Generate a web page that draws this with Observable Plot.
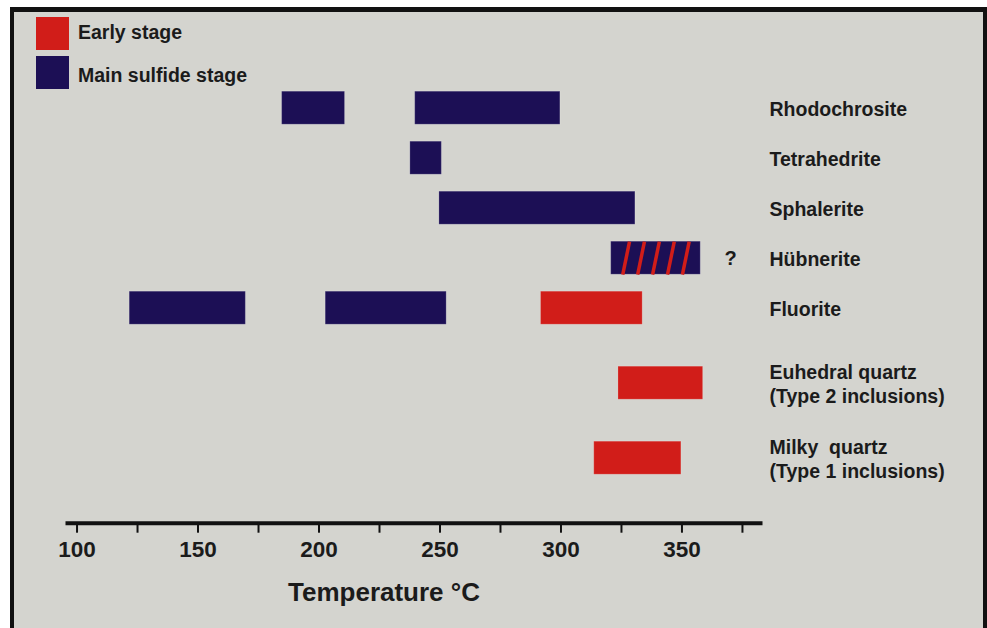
<!DOCTYPE html>
<html>
<head>
<meta charset="utf-8">
<script src="https://cdn.jsdelivr.net/npm/d3@7"></script>
<script src="https://cdn.jsdelivr.net/npm/@observablehq/plot@0.6"></script>
<style>
  html, body { margin: 0; padding: 0; background: #fff; width: 987px; height: 628px; overflow: hidden; }
  #panel { position: absolute; left: 10px; top: 7px; width: 969px; height: 640px;
           border-left: 4px solid #111; border-top: 5px solid #111; border-right: 4px solid #111;
           background: #d4d4cf; }
  #chart { position: absolute; left: 0; top: 0; }
  #chart text { white-space: pre; }
  #legend { position: absolute; left: 36px; top: 17px;
            font: bold 19.5px "Liberation Sans", Arial, sans-serif; color: #1b1b1b; }
  #legend .item { display: flex; align-items: center; height: 33px; margin-bottom: 6px; }
  #legend .sw { width: 33px; height: 33px; margin-right: 9px; }
  #legend .item span { position: relative; }
  #legend .item:first-child span { top: -1px; }
  #legend .item:last-child span { top: 3px; }
</style>
</head>
<body>
<div id="panel"></div>
<div id="chart"></div>
<div id="legend"></div>
<script>
// Minerals, top to bottom, and their labels (two-line labels use "\n")
const minerals = ["Rhodochrosite", "Tetrahedrite", "Sphalerite", "Hübnerite", "Fluorite", "Euhedral quartz", "Milky quartz"];
const mineralLabels = ["Rhodochrosite", "Tetrahedrite", "Sphalerite", "Hübnerite", "Fluorite",
  "Euhedral quartz\n(Type 2 inclusions)", "Milky  quartz\n(Type 1 inclusions)"];

// Paragenetic stages
const stages = ["Early stage", "Main sulfide stage"];

// Homogenization temperature intervals (°C)
const intervalMineral = ["Rhodochrosite", "Rhodochrosite", "Tetrahedrite", "Sphalerite", "Hübnerite",
  "Fluorite", "Fluorite", "Fluorite", "Euhedral quartz", "Milky quartz"];
const intervalStage = ["Main sulfide stage", "Main sulfide stage", "Main sulfide stage", "Main sulfide stage", "Main sulfide stage",
  "Main sulfide stage", "Main sulfide stage", "Early stage", "Early stage", "Early stage"];
const intervalFrom = [186, 241, 239, 251, 322, 123, 204, 293, 325, 315];
const intervalTo   = [212, 301, 252, 332, 359, 171, 254, 335, 360, 351];

// Main-stage intervals streaked with early-stage red, and stage assignments still in doubt
const overprinted = ["Hübnerite"];
const uncertain = ["Hübnerite"];

// Axis ticks
const majorTicks = [100, 150, 200, 250, 300, 350];
const minorTicks = [125, 175, 225, 275, 325, 375];

const stageColors = ["#d11d19", "#1c0f55"];

const intervals = intervalFrom.map((from, i) => ({
  mineral: intervalMineral[i], stage: intervalStage[i], from, to: intervalTo[i]
}));

// Row positions: two-line labels get extra room
const slot = new Map();
let pos = 0;
mineralLabels.forEach((label, i) => {
  if (i > 0) pos += label.includes("\n") ? 1.5 : 1;
  slot.set(minerals[i], pos);
});
const HALF = 0.33; // half bar thickness in row units

// Diagonal streaks across overprinted bars
const stripes = intervals
  .filter(d => overprinted.includes(d.mineral))
  .flatMap(d => d3.range(1, 6).map(k => {
    const c = d.from + (d.to - d.from) * k / 6;
    const r = slot.get(d.mineral);
    return {x1: c - 1.4, x2: c + 1.4, y1: r + HALF, y2: r - HALF};
  }));

const upper = m => d3.max(intervals.filter(d => d.mineral === m), d => d.to);

const chart = Plot.plot({
  width: 987,
  height: 628,
  marginLeft: 67,
  marginRight: 227,
  marginTop: 0,
  marginBottom: 105.3,
  x: {domain: [97.3, 383.7]},
  y: {domain: [0, pos], range: [107.7, 457.7], axis: null},
  color: {domain: stages, range: stageColors},
  style: {background: "transparent", fontFamily: "'Liberation Sans', Arial, sans-serif", color: "#1b1b1b"},
  marks: [
    Plot.rect(intervals, {
      x1: "from", x2: "to",
      y1: d => slot.get(d.mineral) - HALF,
      y2: d => slot.get(d.mineral) + HALF,
      fill: "stage",
      stroke: "white", strokeOpacity: 0.18, strokeWidth: 1
    }),
    Plot.link(stripes, {x1: "x1", y1: "y1", x2: "x2", y2: "y2", stroke: stageColors[0], strokeWidth: 3.5}),
    Plot.text(uncertain, {
      x: upper, y: m => slot.get(m), text: () => "?",
      dx: 30, fontSize: 20, fontWeight: "bold", fill: "#1b1b1b"
    }),
    Plot.text(mineralLabels, {
      y: (d, i) => slot.get(minerals[i]),
      frameAnchor: "right", textAnchor: "start", dx: 9,
      fontSize: 19.5, fontWeight: "bold", lineHeight: 1.24, fill: "#1b1b1b"
    }),
    Plot.frame({anchor: "bottom", stroke: "#111", strokeWidth: 4}),
    Plot.axisX({
      ticks: [...majorTicks, ...minorTicks],
      tickFormat: d => majorTicks.includes(d) ? String(d) : "",
      tickSize: 10, tickPadding: 8, strokeWidth: 2, stroke: "#111",
      fontSize: 22.5, fontWeight: "bold", fill: "#1b1b1b", dx: 3, label: null
    }),
    Plot.text(["Temperature °C"], {
      frameAnchor: "bottom", lineAnchor: "middle", dx: -30, dy: 69,
      fontSize: 26, fontWeight: "bold", fill: "#1b1b1b"
    })
  ]
});
document.getElementById("chart").append(chart);

// Stage legend
const legend = d3.select("#legend");
stages.forEach((s, i) => {
  const item = legend.append("div").attr("class", "item");
  item.append("div").attr("class", "sw").style("background", stageColors[i]);
  item.append("span").text(s);
});
</script>
</body>
</html>
